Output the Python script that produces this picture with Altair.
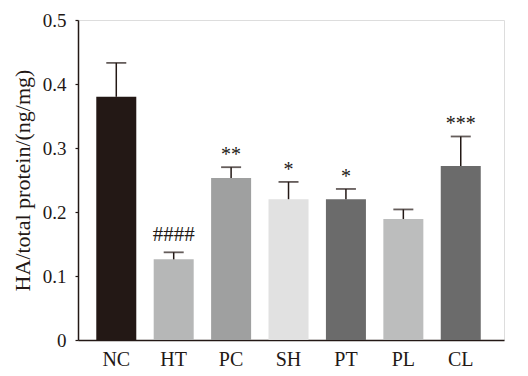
import altair as alt
import pandas as pd

groups = ["NC", "HT", "PC", "SH", "PT", "PL", "CL"]
means = [0.380, 0.126, 0.253, 0.220, 0.220, 0.189, 0.272]
err_top = [0.433, 0.137, 0.270, 0.247, 0.236, 0.204, 0.318]
colors = ["#231815", "#b6b7b7", "#9fa0a0", "#e1e1e1", "#6b6b6b", "#bcbdbd", "#6b6b6b"]
marks = ["", "####", "**", "*", "*", "", "***"]

df = pd.DataFrame({"group": groups, "mean": means, "top": err_top,
                   "color": colors, "mark": marks})

FONT = "Liberation Serif"
DARK = "#231815"

x = alt.X("group:N", sort=groups, title=None,
          scale=alt.Scale(paddingInner=0.3, paddingOuter=0.36, align=0.44),
          axis=alt.Axis(labelAngle=0, ticks=False, labelPadding=9, labelFontSize=20,
                        labelFont=FONT, labelColor=DARK, domainColor=DARK, domainWidth=1.5))
y = alt.Y("mean:Q", title="HA/total protein/(ng/mg)",
          scale=alt.Scale(domain=[0, 0.5], nice=False),
          axis=alt.Axis(values=[0, 0.1, 0.2, 0.3, 0.4, 0.5],
                        labelExpr="datum.value == 0 ? '0' : format(datum.value, '.1f')",
                        labelFont=FONT, labelFontSize=19, labelColor=DARK,
                        tickSize=3, tickColor=DARK, tickWidth=1.2, labelPadding=9,
                        domainColor=DARK, domainWidth=1.5, grid=False,
                        titleFont=FONT, titleFontSize=22, titleFontWeight="normal",
                        titleColor=DARK, titlePadding=8))

base = alt.Chart(df)

bars = base.mark_bar(size=40).encode(
    x=x, y=y, color=alt.Color("color:N", scale=None))

err = base.mark_rule(color=DARK, strokeWidth=1.5).encode(
    x=alt.X("group:N", sort=groups), y="mean:Q", y2="top:Q")

cap = base.mark_tick(color=DARK, thickness=1.8, size=20, orient="horizontal").encode(
    x=alt.X("group:N", sort=groups), y="top:Q")

stars = base.transform_filter("indexof(datum.mark, '*') >= 0").mark_text(
    font=FONT, fontSize=20, color=DARK, baseline="alphabetic", dy=-6).encode(
    x=alt.X("group:N", sort=groups), y="top:Q", text="mark:N")

hashes = base.transform_filter("indexof(datum.mark, '#') >= 0").mark_text(
    font=FONT, fontSize=21, color=DARK, baseline="alphabetic", dy=-11).encode(
    x=alt.X("group:N", sort=groups), y="top:Q", text="mark:N")

chart = alt.layer(bars, err, cap, stars, hashes).properties(
    width=426, height=320,
    autosize=alt.AutoSizeParams(type="none"),
    padding={"left": 70, "top": 12, "right": 10, "bottom": 40},
).configure_view(stroke=DARK, strokeWidth=1.2).configure(background="white")

chart.save("out.html", embed_options={"renderer": "svg", "actions": False})
